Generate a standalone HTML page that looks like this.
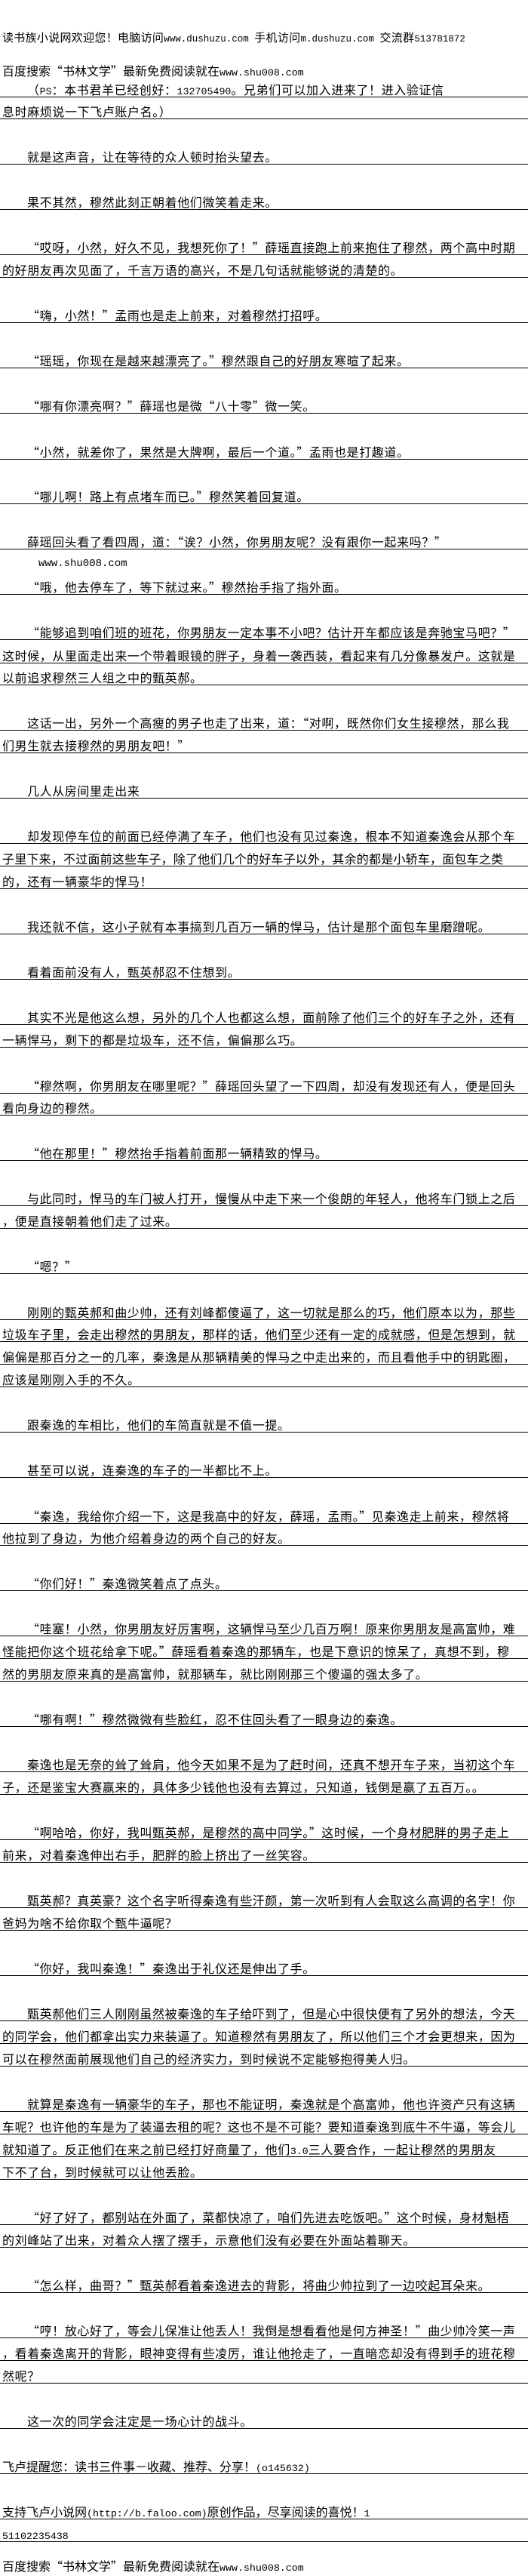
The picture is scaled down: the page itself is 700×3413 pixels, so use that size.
<!DOCTYPE html>
<html lang="zh-CN"><head><meta charset="utf-8">
<style>
html,body{margin:0;padding:0;background:#fff;}
body{width:700px;height:3411px;position:relative;overflow:hidden;
font-family:"Noto Sans CJK SC","WenQuanYi Zen Hei",sans-serif;color:#000;}
.l{position:absolute;left:0;width:700px;height:21px;line-height:20px;font-size:16px;letter-spacing:0.6px;
padding-left:3px;box-sizing:border-box;border-bottom:1px solid #000;white-space:nowrap;font-feature-settings:"fwid" 1;}
.n{border-bottom:none;}
.i{text-indent:33px;}
.m{font-family:"Liberation Mono",monospace;font-size:13.3px;letter-spacing:0;font-feature-settings:normal;}
</style></head><body>
<div class="l n" style="top:40px;font-size:15px;letter-spacing:0.3px">读书族小说网欢迎您！电脑访问<span class="m" style="font-size:12.5px">www.dushuzu.com </span>手机访问<span class="m" style="font-size:12.5px">m.dushuzu.com </span>交流群<span class="m" style="font-size:12.5px">513781872</span></div>
<div class="l n" style="top:83px;letter-spacing:0">百度搜索“书林文学”最新免费阅读就在<span class="m">www.shu008.com</span></div>
<div class="l i" style="top:108px">（<span class="m">PS</span>：本书君羊已经创好：<span class="m">132705490</span>。兄弟们可以加入进来了！进入验证信</div>
<div class="l" style="top:137px">息时麻烦说一下飞卢账户名。）</div>
<div class="l i" style="top:197px">就是这声音，让在等待的众人顿时抬头望去。</div>
<div class="l i" style="top:257px">果不其然，穆然此刻正朝着他们微笑着走来。</div>
<div class="l i" style="top:317px">“哎呀，小然，好久不见，我想死你了！”薛瑶直接跑上前来抱住了穆然，两个高中时期</div>
<div class="l" style="top:347px">的好朋友再次见面了，千言万语的高兴，不是几句话就能够说的清楚的。</div>
<div class="l i" style="top:407px">“嗨，小然！”孟雨也是走上前来，对着穆然打招呼。</div>
<div class="l i" style="top:467px">“瑶瑶，你现在是越来越漂亮了。”穆然跟自己的好朋友寒暄了起来。</div>
<div class="l i" style="top:527px">“哪有你漂亮啊？”薛瑶也是微“八十零”微一笑。</div>
<div class="l i" style="top:588px">“小然，就差你了，果然是大牌啊，最后一个道。”孟雨也是打趣道。</div>
<div class="l i" style="top:647px">“哪儿啊！路上有点堵车而已。”穆然笑着回复道。</div>
<div class="l i" style="top:707px">薛瑶回头看了看四周，道：“诶？小然，你男朋友呢？没有跟你一起来吗？”</div>
<div class="l n" style="top:733px;padding-left:51px"><span class="m" style="font-size:14px">www.shu008.com</span></div>
<div class="l i" style="top:767px">“哦，他去停车了，等下就过来。”穆然抬手指了指外面。</div>
<div class="l i" style="top:827px">“能够追到咱们班的班花，你男朋友一定本事不小吧？估计开车都应该是奔驰宝马吧？”</div>
<div class="l" style="top:858px">这时候，从里面走出来一个带着眼镜的胖子，身着一袭西装，看起来有几分像暴发户。这就是</div>
<div class="l" style="top:887px">以前追求穆然三人组之中的甄英郝。</div>
<div class="l i" style="top:947px">这话一出，另外一个高瘦的男子也走了出来，道：“对啊，既然你们女生接穆然，那么我</div>
<div class="l" style="top:977px">们男生就去接穆然的男朋友吧！”</div>
<div class="l i" style="top:1037px">几人从房间里走出来</div>
<div class="l i" style="top:1097px">却发现停车位的前面已经停满了车子，他们也没有见过秦逸，根本不知道秦逸会从那个车</div>
<div class="l" style="top:1127px;letter-spacing:0.2px">子里下来，不过面前这些车子，除了他们几个的好车子以外，其余的都是小轿车，面包车之类</div>
<div class="l" style="top:1157px">的，还有一辆豪华的悍马！</div>
<div class="l i" style="top:1217px">我还就不信，这小子就有本事搞到几百万一辆的悍马，估计是那个面包车里磨蹭呢。</div>
<div class="l i" style="top:1277px">看着面前没有人，甄英郝忍不住想到。</div>
<div class="l i" style="top:1337px">其实不光是他这么想，另外的几个人也都这么想，面前除了他们三个的好车子之外，还有</div>
<div class="l" style="top:1367px">一辆悍马，剩下的都是垃圾车，还不信，偏偏那么巧。</div>
<div class="l i" style="top:1428px">“穆然啊，你男朋友在哪里呢？”薛瑶回头望了一下四周，却没有发现还有人，便是回头</div>
<div class="l" style="top:1457px">看向身边的穆然。</div>
<div class="l i" style="top:1517px">“他在那里！”穆然抬手指着前面那一辆精致的悍马。</div>
<div class="l i" style="top:1577px">与此同时，悍马的车门被人打开，慢慢从中走下来一个俊朗的年轻人，他将车门锁上之后</div>
<div class="l" style="top:1607px">，便是直接朝着他们走了过来。</div>
<div class="l i" style="top:1667px">“嗯？”</div>
<div class="l i" style="top:1728px">刚刚的甄英郝和曲少帅，还有刘峰都傻逼了，这一切就是那么的巧，他们原本以为，那些</div>
<div class="l" style="top:1757px">垃圾车子里，会走出穆然的男朋友，那样的话，他们至少还有一定的成就感，但是怎想到，就</div>
<div class="l" style="top:1787px">偏偏是那百分之一的几率，秦逸是从那辆精美的悍马之中走出来的，而且看他手中的钥匙圈，</div>
<div class="l" style="top:1817px">应该是刚刚入手的不久。</div>
<div class="l i" style="top:1877px">跟秦逸的车相比，他们的车简直就是不值一提。</div>
<div class="l i" style="top:1937px">甚至可以说，连秦逸的车子的一半都比不上。</div>
<div class="l i" style="top:1998px">“秦逸，我给你介绍一下，这是我高中的好友，薛瑶，孟雨。”见秦逸走上前来，穆然将</div>
<div class="l" style="top:2027px">他拉到了身边，为他介绍着身边的两个自己的好友。</div>
<div class="l i" style="top:2087px">“你们好！”秦逸微笑着点了点头。</div>
<div class="l i" style="top:2147px">“哇塞！小然，你男朋友好厉害啊，这辆悍马至少几百万啊！原来你男朋友是高富帅，难</div>
<div class="l" style="top:2177px">怪能把你这个班花给拿下呢。”薛瑶看着秦逸的那辆车，也是下意识的惊呆了，真想不到，穆</div>
<div class="l" style="top:2207px">然的男朋友原来真的是高富帅，就那辆车，就比刚刚那三个傻逼的强太多了。</div>
<div class="l i" style="top:2267px">“哪有啊！”穆然微微有些脸红，忍不住回头看了一眼身边的秦逸。</div>
<div class="l i" style="top:2327px">秦逸也是无奈的耸了耸肩，他今天如果不是为了赶时间，还真不想开车子来，当初这个车</div>
<div class="l" style="top:2357px">子，还是鉴宝大赛赢来的，具体多少钱他也没有去算过，只知道，钱倒是赢了五百万。。</div>
<div class="l i" style="top:2417px">“啊哈哈，你好，我叫甄英郝，是穆然的高中同学。”这时候，一个身材肥胖的男子走上</div>
<div class="l" style="top:2447px">前来，对着秦逸伸出右手，肥胖的脸上挤出了一丝笑容。</div>
<div class="l i" style="top:2507px">甄英郝？真英豪？这个名字听得秦逸有些汗颜，第一次听到有人会取这么高调的名字！你</div>
<div class="l" style="top:2537px">爸妈为啥不给你取个甄牛逼呢？</div>
<div class="l i" style="top:2597px">“你好，我叫秦逸！”秦逸出于礼仪还是伸出了手。</div>
<div class="l i" style="top:2657px">甄英郝他们三人刚刚虽然被秦逸的车子给吓到了，但是心中很快便有了另外的想法，今天</div>
<div class="l" style="top:2687px">的同学会，他们都拿出实力来装逼了。知道穆然有男朋友了，所以他们三个才会更想来，因为</div>
<div class="l" style="top:2717px">可以在穆然面前展现他们自己的经济实力，到时候说不定能够抱得美人归。</div>
<div class="l i" style="top:2777px">就算是秦逸有一辆豪华的车子，那也不能证明，秦逸就是个高富帅，他也许资产只有这辆</div>
<div class="l" style="top:2807px">车呢？也许他的车是为了装逼去租的呢？这也不是不可能？要知道秦逸到底牛不牛逼，等会儿</div>
<div class="l" style="top:2837px">就知道了。反正他们在来之前已经打好商量了，他们<span class="m">3.0</span>三人要合作，一起让穆然的男朋友</div>
<div class="l" style="top:2867px">下不了台，到时候就可以让他丢脸。</div>
<div class="l i" style="top:2927px">“好了好了，都别站在外面了，菜都快凉了，咱们先进去吃饭吧。”这个时候，身材魁梧</div>
<div class="l" style="top:2957px">的刘峰站了出来，对着众人摆了摆手，示意他们没有必要在外面站着聊天。</div>
<div class="l i" style="top:3017px">“怎么样，曲哥？”甄英郝看着秦逸进去的背影，将曲少帅拉到了一边咬起耳朵来。</div>
<div class="l i" style="top:3077px">“哼！放心好了，等会儿保准让他丢人！我倒是想看看他是何方神圣！”曲少帅冷笑一声</div>
<div class="l" style="top:3107px">，看着秦逸离开的背影，眼神变得有些凌厉，谁让他抢走了，一直暗恋却没有得到手的班花穆</div>
<div class="l" style="top:3137px">然呢？</div>
<div class="l i" style="top:3197px">这一次的同学会注定是一场心计的战斗。</div>
<div class="l" style="top:3257px;letter-spacing:0">飞卢提醒您：读书三件事－收藏、推荐、分享！<span class="m">(o145632)</span></div>
<div class="l" style="top:3317px;letter-spacing:0">支持飞卢小说网<span class="m">(http://b.faloo.com)</span>原创作品，尽享阅读的喜悦！<span class="m">1</span></div>
<div class="l" style="top:3347px"><span class="m">51102235438</span></div>
<div class="l n" style="top:3389px;letter-spacing:0">百度搜索“书林文学”最新免费阅读就在<span class="m">www.shu008.com</span></div>
</body></html>
